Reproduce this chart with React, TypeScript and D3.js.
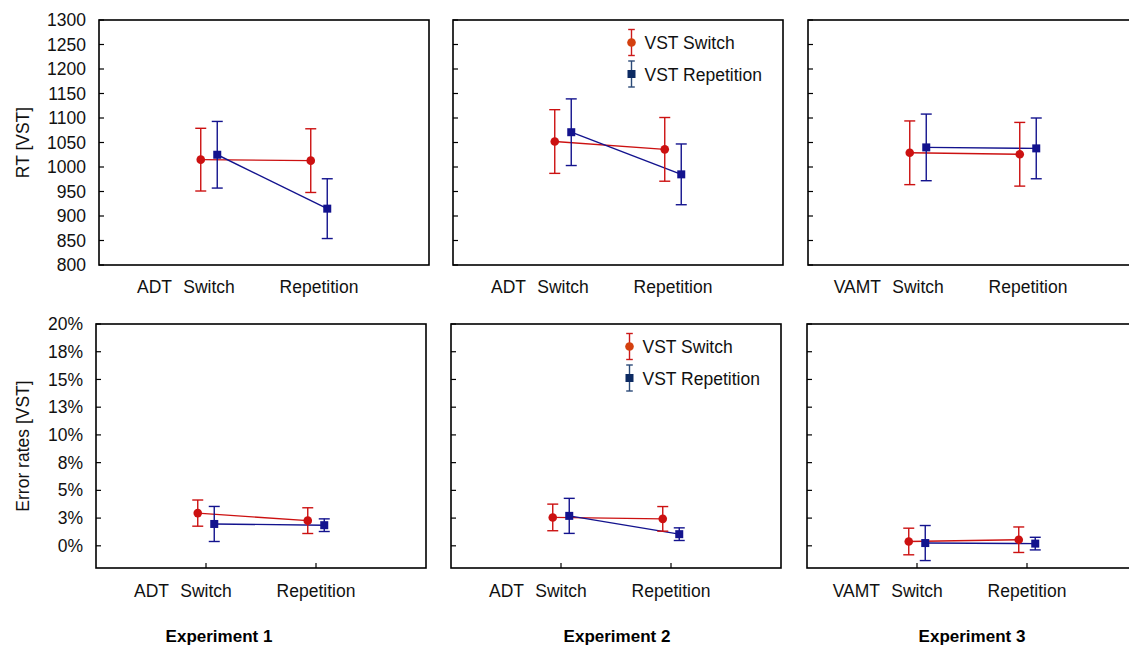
import React from 'react';
import * as d3 from 'd3';

// chart data
const categories = ['Switch', 'Repetition'];
const taskNames = ['ADT', 'ADT', 'VAMT'];
const experiments = ['Experiment 1', 'Experiment 2', 'Experiment 3'];
const seriesNames = ['VST Switch', 'VST Repetition'];

// RT [VST] in ms, per experiment: [Switch, Repetition]
const rtVstSwitch = [[1015, 1013], [1052, 1036], [1029, 1026]];
const rtVstSwitchCI = [[64, 65], [65, 65], [65, 65]];
const rtVstRep = [[1025, 915], [1071, 985], [1040, 1038]];
const rtVstRepCI = [[68, 61], [68, 62], [68, 62]];

// Error rates [VST] in %, per experiment: [Switch, Repetition]
const errVstSwitch = [[2.95, 2.27], [2.56, 2.43], [0.39, 0.55]];
const errVstSwitchCI = [[1.18, 1.16], [1.2, 1.11], [1.2, 1.15]];
const errVstRep = [[1.97, 1.86], [2.7, 1.05], [0.25, 0.2]];
const errVstRepCI = [[1.58, 0.57], [1.58, 0.57], [1.58, 0.57]];

const rtTicks = d3.range(800, 1301, 50);
const errTicks = d3.range(0, 20.01, 2.5);

const W = 1129;
const H = 649;
const FONT = '"Liberation Sans", Arial, sans-serif';
const FS = 17.5;
const RED = '#cc1111';
const BLUE = '#13138e';

const panelW = 330;
const rows = [
  { top: 20, bottom: 265, lefts: [99, 453, 808], domain: [800, 1300], ticks: rtTicks, fmt: (v: number) => String(v), title: 'RT [VST]', sw: rtVstSwitch, swCI: rtVstSwitchCI, rep: rtVstRep, repCI: rtVstRepCI, xTicks: false, labelY: 293 },
  { top: 324, bottom: 568, lefts: [96, 451, 807], domain: [-2, 20], ticks: errTicks, fmt: (v: number) => `${Math.round(v)}%`, title: 'Error rates [VST]', sw: errVstSwitch, swCI: errVstSwitchCI, rep: errVstRep, repCI: errVstRepCI, xTicks: true, labelY: 597 },
];

const expLabelX = [219, 617, 972];

function ErrorPoint({ x, y, lo, hi, color, cap, shape, markColor, barColor }: any) {
  return (
    <g>
      <line x1={x} x2={x} y1={lo} y2={hi} stroke={barColor || color} strokeWidth={1.4} />
      <line x1={x - cap} x2={x + cap} y1={lo} y2={lo} stroke={barColor || color} strokeWidth={1.4} />
      <line x1={x - cap} x2={x + cap} y1={hi} y2={hi} stroke={barColor || color} strokeWidth={1.4} />
      {shape === 'circle'
        ? <circle cx={x} cy={y} r={4.3} fill={markColor || color} />
        : <rect x={x - 4} y={y - 4} width={8} height={8} fill={markColor || color} />}
    </g>
  );
}

function Panel({ row, p }: any) {
  const left = row.lefts[p];
  const x = d3.scaleLinear().domain([0, 3]).range([left, left + panelW]);
  const y = d3.scaleLinear().domain(row.domain).range([row.bottom, row.top]);
  const off = 0.075;
  const swPts = categories.map((_, i) => ({ x: x(i + 1 - off), m: row.sw[p][i], ci: row.swCI[p][i] }));
  const repPts = categories.map((_, i) => ({ x: x(i + 1 + off), m: row.rep[p][i], ci: row.repCI[p][i] }));
  const line = d3.line<any>().x((d) => d.x).y((d) => y(d.m));
  return (
    <g>
      <rect x={left} y={row.top} width={panelW} height={row.bottom - row.top} fill="none" stroke="#000" strokeWidth={1.6} />
      {row.ticks.map((t: number) => (
        <g key={t}>
          <line x1={left} x2={left + 5} y1={y(t)} y2={y(t)} stroke="#000" strokeWidth={1.2} />
          {p === 0 && (
            <text x={left - 13} y={y(t)} dy="0.35em" textAnchor="end" fontSize={FS} fontFamily={FONT} fill="#111">{row.fmt(t)}</text>
          )}
        </g>
      ))}
      {row.xTicks && categories.map((c, i) => (
        <line key={c} x1={x(i + 1)} x2={x(i + 1)} y1={row.bottom} y2={row.bottom - 5} stroke="#000" strokeWidth={1.2} />
      ))}
      {categories.map((c, i) => (
        <text key={c} x={x(i + 1)} y={row.labelY} textAnchor="middle" fontSize={FS} fontFamily={FONT} fill="#111">{c}</text>
      ))}
      <text x={x(1) - 37} y={row.labelY} textAnchor="end" fontSize={FS} fontFamily={FONT} fill="#111">{taskNames[p]}</text>
      <path d={line(swPts) || ''} fill="none" stroke={RED} strokeWidth={1.4} />
      <path d={line(repPts) || ''} fill="none" stroke={BLUE} strokeWidth={1.4} />
      {swPts.map((d, i) => (
        <ErrorPoint key={'s' + i} x={d.x} y={y(d.m)} lo={y(d.m - d.ci)} hi={y(d.m + d.ci)} color={RED} cap={5.5} shape="circle" />
      ))}
      {repPts.map((d, i) => (
        <ErrorPoint key={'r' + i} x={d.x} y={y(d.m)} lo={y(d.m - d.ci)} hi={y(d.m + d.ci)} color={BLUE} cap={5.5} shape="square" />
      ))}
      {p === 1 && (
        <g>
          {seriesNames.map((s, i) => {
            const cy = row.top + 22.5 + i * 31.5;
            const lx = left + 178.5;
            return (
              <g key={s}>
                <ErrorPoint x={lx} y={cy} lo={cy + 13} hi={cy - 13} cap={3.3}
                  shape={i === 0 ? 'circle' : 'square'}
                  markColor={i === 0 ? '#d4400f' : '#0c2a62'}
                  barColor={i === 0 ? '#cc1a1a' : '#2c4a78'} />
                <text x={lx + 13} y={cy + 6.5} fontSize={FS} fontFamily={FONT} fill="#111">{s}</text>
              </g>
            );
          })}
        </g>
      )}
    </g>
  );
}

export default function App() {
  return (
    <svg width={W} height={H} style={{ position: 'absolute', left: 0, top: 0, background: '#fff' }}>
      <rect width={W} height={H} fill="#fff" />
      {rows.map((row, r) => (
        <g key={r}>
          {experiments.map((_, p) => <Panel key={p} row={row} p={p} />)}
          <text transform={`translate(29,${(row.top + row.bottom) / 2}) rotate(-90)`} textAnchor="middle" fontSize={FS} fontFamily={FONT} fill="#111">{row.title}</text>
        </g>
      ))}
      {experiments.map((e, i) => (
        <text key={e} x={expLabelX[i]} y={642} textAnchor="middle" fontSize={17} fontWeight="bold" fontFamily={FONT} fill="#000">{e}</text>
      ))}
    </svg>
  );
}
